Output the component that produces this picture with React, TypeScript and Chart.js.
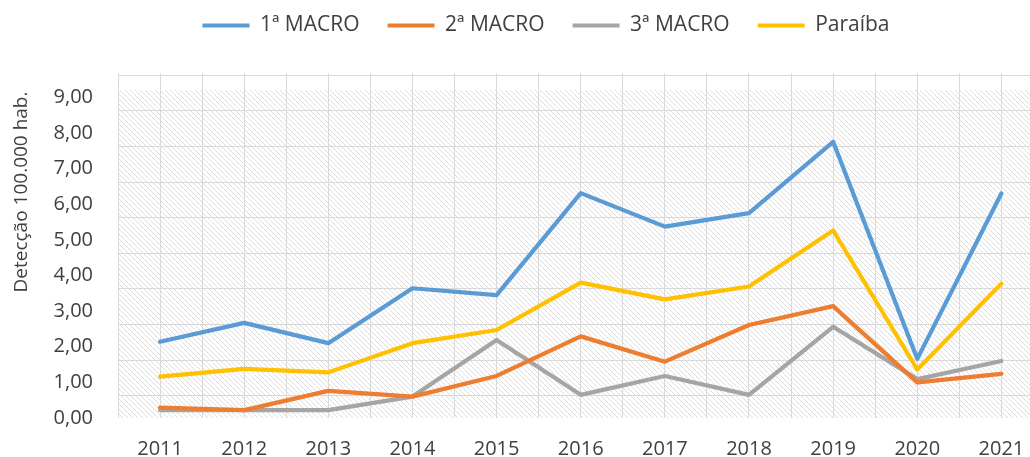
import React, { useEffect, useRef } from "react";
import { Chart, registerables } from "chart.js";

Chart.register(...registerables);

const years = [2011, 2012, 2013, 2014, 2015, 2016, 2017, 2018, 2019, 2020, 2021];
const macro1 = [2.14, 2.67, 2.1, 3.64, 3.45, 6.31, 5.37, 5.75, 7.75, 1.66, 6.3];
const macro2 = [0.29, 0.22, 0.76, 0.6, 1.18, 2.29, 1.58, 2.61, 3.14, 1.0, 1.24];
const macro3 = [0.22, 0.22, 0.22, 0.6, 2.19, 0.65, 1.18, 0.65, 2.56, 1.09, 1.6];
const paraiba = [1.16, 1.38, 1.28, 2.1, 2.47, 3.8, 3.33, 3.69, 5.26, 1.36, 3.77];
const seriesNames = ["1ª MACRO", "2ª MACRO", "3ª MACRO", "Paraíba"];
const yTicks = [0, 1, 2, 3, 4, 5, 6, 7, 8, 9];
const bgGridValues = [0.62, 1.62, 2.62, 3.62, 4.62, 5.62, 6.62, 7.62, 8.62, 9.62];
const xGridValues = [
  2010.5, 2011, 2011.5, 2012, 2012.5, 2013, 2013.5, 2014, 2014.5, 2015, 2015.5, 2016,
  2016.5, 2017, 2017.5, 2018, 2018.5, 2019, 2019.5, 2020, 2020.5, 2021,
];
const yTitle = "Detecção 100.000 hab.";

const COLORS = ["#5B9BD5", "#ED7D31", "#A5A5A5", "#FFC000"];
const FONT = "'Open Sans', 'DejaVu Sans', sans-serif";
const TEXT = "#404040";

function makePattern(): CanvasPattern | string {
  const c = document.createElement("canvas");
  c.width = 5;
  c.height = 5;
  const g = c.getContext("2d");
  if (!g) return "#eeeeee";
  g.fillStyle = "#ffffff";
  g.fillRect(0, 0, 5, 5);
  g.strokeStyle = "rgba(180,180,180,0.45)";
  g.lineWidth = 1;
  g.beginPath();
  g.moveTo(-1, -1);
  g.lineTo(6, 6);
  g.moveTo(-1, 4);
  g.lineTo(1, 6);
  g.moveTo(4, -1);
  g.lineTo(6, 1);
  g.stroke();
  const p = g.createPattern(c, "repeat");
  return p || "#eeeeee";
}

export default function App() {
  const ref = useRef<HTMLCanvasElement | null>(null);

  useEffect(() => {
    document.body.style.margin = "0";
    const canvas = ref.current;
    if (!canvas) return;
    const pattern = makePattern();

    const hatchPlugin = {
      id: "hatch",
      beforeDraw(chart: any) {
        const { ctx, chartArea } = chart;
        const ys = chart.scales.y;
        const top = ys.getPixelForValue(9.2);
        ctx.save();
        ctx.fillStyle = pattern;
        ctx.fillRect(chartArea.left, top, chartArea.right - chartArea.left, chartArea.bottom - top);
        ctx.restore();
      },
      afterDraw(chart: any) {
        const { ctx } = chart;
        ctx.save();
        ctx.translate(22, 192);
        ctx.rotate(-Math.PI / 2);
        ctx.font = `19px ${FONT}`;
        ctx.fillStyle = TEXT;
        ctx.textAlign = "center";
        ctx.textBaseline = "middle";
        ctx.fillText(yTitle, 0, 0);
        ctx.restore();
      },
    };

    const legendPlacer = {
      id: "legendPlacer",
      beforeLayout(chart: any) {
        const lg = chart.legend;
        if (lg && !lg._patched) {
          const orig = lg.fit.bind(lg);
          lg.fit = () => {
            orig();
            lg.height = 0;
          };
          lg._patched = true;
        }
      },
      afterLayout(chart: any) {
        const lg = chart.legend;
        if (!lg) return;
        lg.top = -13;
        lg.bottom = 60;
        lg.left = 31;
        lg.right = 1030 + 31;
      },
    };

    const series = [macro1, macro2, macro3, paraiba];
    const chart = new Chart(canvas, {
      type: "line",
      data: {
        datasets: series.map((arr, i) => ({
          label: seriesNames[i],
          data: years.map((yr, j) => ({ x: yr, y: arr[j] })),
          borderColor: COLORS[i],
          backgroundColor: COLORS[i],
          borderWidth: 4.2,
          pointRadius: 0,
          tension: 0,
          borderJoinStyle: "round" as const,
          borderCapStyle: "round" as const,
          fill: false,
        })),
      },
      options: {
        animation: false,
        responsive: false,
        maintainAspectRatio: false,
        layout: { padding: { top: 73, left: 0, right: 0, bottom: 0 } },
        plugins: {
          tooltip: { enabled: false },
          legend: {
            display: true,
            position: "top",
            labels: {
              boxWidth: 47,
              boxHeight: 4,
              padding: 28,
              color: TEXT,
              font: { family: FONT, size: 21 },
              generateLabels: (ch: any) =>
                Chart.defaults.plugins.legend.labels.generateLabels(ch).map((l: any) => ({
                  ...l,
                  fillStyle: l.strokeStyle,
                  lineWidth: 0,
                })),
            },
          },
        },
        scales: {
          x: {
            type: "linear",
            min: 2010.5,
            max: 2021.34,
            border: { display: false },
            grid: { color: "#d9d9d9", lineWidth: 1, drawTicks: false },
            afterBuildTicks: (s: any) => {
              s.ticks = xGridValues.map((v) => ({ value: v }));
            },
            afterFit: (s: any) => {
              s.height = 39;
              s.paddingLeft = 0;
              s.paddingRight = 0;
            },
            ticks: {
              padding: 19,
              color: TEXT,
              font: { family: FONT, size: 20 },
              autoSkip: false,
              maxRotation: 0,
              callback: (v: any) => (Number.isInteger(Number(v)) ? String(v) : ""),
            },
          },
          y: {
            type: "linear",
            position: "left",
            min: 0,
            max: 9.68,
            border: { display: false },
            grid: { display: false, drawTicks: false },
            afterBuildTicks: (s: any) => {
              s.ticks = yTicks.map((v) => ({ value: v }));
            },
            afterFit: (s: any) => {
              s.width = 118;
            },
            ticks: {
              padding: 25,
              color: TEXT,
              font: { family: FONT, size: 20 },
              callback: (v: any) => Number(v).toFixed(2).replace(".", ","),
            },
          },
          y2: {
            type: "linear",
            position: "right",
            min: 0,
            max: 9.68,
            border: { display: false },
            grid: { color: "#d9d9d9", lineWidth: 1, drawTicks: false },
            afterBuildTicks: (s: any) => {
              s.ticks = bgGridValues.map((v) => ({ value: v }));
            },
            afterFit: (s: any) => {
              s.width = 0;
            },
            ticks: { display: false },
          },
        },
      },
      plugins: [hatchPlugin, legendPlacer],
    } as any);

    return () => chart.destroy();
  }, []);

  return (
    <div style={{ width: 1030, height: 457, overflow: "hidden" }}>
      <canvas ref={ref} width={1030} height={457} style={{ display: "block" }} />
    </div>
  );
}
